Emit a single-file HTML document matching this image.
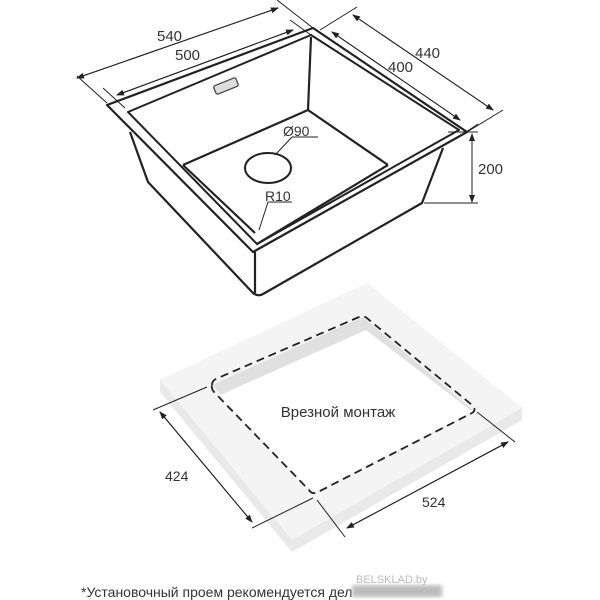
<!DOCTYPE html>
<html><head><meta charset="utf-8"><style>
html,body{margin:0;padding:0;background:#fff;}
svg{display:block;}
text{font-family:"Liberation Sans",sans-serif;fill:#333;}
</style></head><body>
<svg width="600" height="600" viewBox="0 0 600 600" xmlns="http://www.w3.org/2000/svg">
<defs>
<marker id="a" markerWidth="8" markerHeight="6" refX="7" refY="3" orient="auto" markerUnits="userSpaceOnUse"><path d="M0,0 L8,3 L0,6 Z" fill="#222"/></marker>
<filter id="bl"><feGaussianBlur stdDeviation="2"/></filter>
</defs>
<!-- sink body -->
<g fill="none" stroke="#222" stroke-width="2.2" stroke-linejoin="round">
<path d="M107,105 L313,28 L467,132 L253,252 Z"/>
<path d="M128,112 L311,35 L459,130 L257,244 Z" stroke-width="2"/>
<path d="M311,37 L308,110 M308,110 L183,165 M308,110 L388,165 M183,165 L255,233 M388,165 L257,244"/>
<path d="M130,132 L148,182 L253,293 Q258,297 263,294 L422,203 L443,148"/>
<path d="M255,252 L255,293"/>
</g>
<ellipse cx="268" cy="168" rx="23" ry="15" fill="none" stroke="#222" stroke-width="2"/>
<g transform="translate(226,86) rotate(-22)"><rect x="-12" y="-4.5" width="24" height="9" rx="2" fill="#ddd" stroke="#444" stroke-width="1.3"/></g>
<!-- dimension lines -->
<g stroke="#222" stroke-width="1" fill="none">
<path d="M77,76 L107,103 M277,0 L313,28"/>
<line x1="77" y1="78" x2="278" y2="8" marker-end="url(#a)"/>
<line x1="278" y1="8" x2="77" y2="78" marker-end="url(#a)"/>
<line x1="117" y1="95" x2="293" y2="30" marker-end="url(#a)"/>
<line x1="293" y1="30" x2="117" y2="95" marker-end="url(#a)"/>
<path d="M103,88 L125,108 M290,20 L311,35"/>
<line x1="353" y1="15" x2="493" y2="110" marker-end="url(#a)"/>
<line x1="493" y1="110" x2="353" y2="15" marker-end="url(#a)"/>
<path d="M320,30 L357,7 M467,132 L503,110"/>
<line x1="332" y1="32" x2="460" y2="120" marker-end="url(#a)"/>
<line x1="460" y1="120" x2="332" y2="32" marker-end="url(#a)"/>
<path d="M466,132 L478,124 M448,132 L478,132 M424,203 L478,203"/>
<line x1="472" y1="140" x2="472" y2="202" marker-end="url(#a)"/>
<line x1="472" y1="202" x2="472" y2="134" marker-end="url(#a)"/>
<path d="M292,137 L318,137 M292,137 L275,155"/>
<path d="M268,202 L292,202 M268,202 L259,230"/>
</g>
<text x="157" y="41" font-size="15">540</text>
<text x="175" y="60" font-size="15">500</text>
<text x="415" y="58" font-size="15">440</text>
<text x="388" y="72" font-size="15">400</text>
<text x="478" y="174" font-size="15">200</text>
<text x="283" y="136" font-size="14">Ø90</text>
<text x="265" y="201" font-size="14">R10</text>
<!-- slab -->
<path d="M160,380 L367,283 L522,408 L522,420 L292,552 L160,392 Z" fill="#e9e9e9"/>
<path d="M160,380 L367,283 L522,408 L292,540 Z" fill="#f4f4f4"/>
<path d="M212,385 L363,317 L475,412 L312,493 Z" fill="#e0e0e0"/>
<path d="M218,396 L366,330 L473,412 L312,493 Z" fill="#fff"/>
<path d="M212,385 Q212,380 218,378 L359,317 Q364,315 368,319 L472,405 Q477,410 472,413 L318,492 Q312,495 309,490 L214,392 Q211,388 212,385 Z" fill="none" stroke="#222" stroke-width="1.8" stroke-dasharray="8,5"/>
<g stroke="#222" stroke-width="1" fill="none">
<path d="M153,410 L207,387 M252,528 L313,498 M317,500 L345,537 M477,412 L515,442"/>
<line x1="160" y1="412" x2="252" y2="522" marker-end="url(#a)"/>
<line x1="252" y1="522" x2="160" y2="412" marker-end="url(#a)"/>
<line x1="347" y1="528" x2="508" y2="442" marker-end="url(#a)"/>
<line x1="508" y1="442" x2="347" y2="528" marker-end="url(#a)"/>
</g>
<text x="338" y="417" font-size="15" text-anchor="middle">Врезной монтаж</text>
<text x="165" y="481" font-size="14">424</text>
<text x="422" y="507" font-size="14">524</text>
<text x="81" y="597" font-size="14">*Установочный проем рекомендуется дел</text>
<rect x="352" y="585" width="90" height="12" fill="#bbb" filter="url(#bl)"/>
<text x="356" y="583" font-size="11" style="fill:#bbb">BELSKLAD.by</text>
</svg>
</body></html>
